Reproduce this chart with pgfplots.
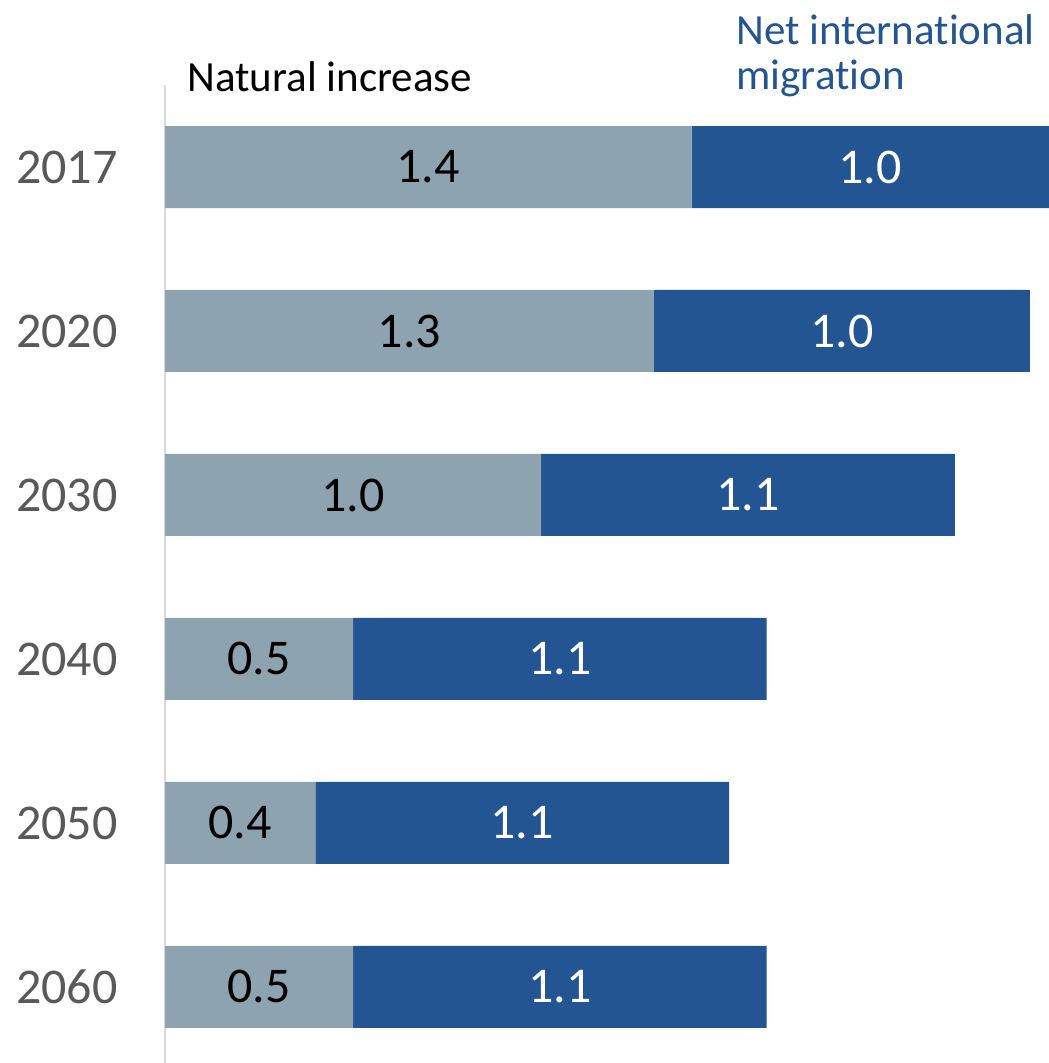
\documentclass[border=0pt]{standalone}
\usepackage{fontspec}
\setmainfont{Carlito}[Ligatures=NoCommon]
\usepackage{pgfplots}
\pgfplotsset{compat=1.18}
\definecolor{natgrey}{HTML}{8DA4B0}
\definecolor{migblue}{HTML}{225592}
\definecolor{yeargrey}{HTML}{595959}
\definecolor{axgrey}{HTML}{D9D9D9}

% 1 px of the reference = 0.5pt
\begin{document}
\begin{tikzpicture}
\begin{axis}[
  at={(82.5pt,-42.5pt)}, anchor=north west,
  width=441.5pt, height=489.5pt, scale only axis,
  xbar stacked, bar width=41pt,
  xmin=0, xmax=2.348,
  ymin=-0.5, ymax=5.47, y dir=reverse,
  hide x axis,
  axis y line*=left,
  y axis line style={axgrey, line width=1pt, -},
  ytick={0,...,5},
  yticklabels={2017,2020,2030,2040,2050,2060},
  ytick style={draw=none},
  major tick length=0pt,
  yticklabel style={font=\fontsize{25}{30}\selectfont, text=yeargrey, inner sep=0pt, xshift=-23.5pt},
  point meta=explicit symbolic,
  % with anchor=center the stacked labels already sit mid-segment
  every node near coord/.append style={anchor=center, font=\fontsize{25}{30}\selectfont},
  clip=false,
]
% natural increase (millions)
\addplot[fill=natgrey, draw=none, nodes near coords={\pgfplotspointmeta}]
  coordinates {(1.40,0) [1.4] (1.30,1) [1.3] (1.00,2) [1.0] (0.50,3) [0.5] (0.40,4) [0.4] (0.50,5) [0.5]};
% net international migration
\addplot[fill=migblue, draw=none, nodes near coords={\color{white}\pgfplotspointmeta}]
  coordinates {(0.95,0) [1.0] (1.00,1) [1.0] (1.10,2) [1.1] (1.10,3) [1.1] (1.10,4) [1.1] (1.10,5) [1.1]};
\end{axis}

\node[anchor=base west, inner sep=0pt, font=\fontsize{21.5}{25}\selectfont] at (93.5pt,-46pt) {Natural increase};
\node[anchor=base west, inner sep=0pt, font=\fontsize{21.5}{25}\selectfont, text=migblue] at (368pt,-22.5pt) {Net international};
\node[anchor=base west, inner sep=0pt, font=\fontsize{21.5}{25}\selectfont, text=migblue] at (368pt,-45pt) {migration};

\pgfresetboundingbox
\path (0,0) rectangle (524pt,-531.5pt);
\end{tikzpicture}
\end{document}
